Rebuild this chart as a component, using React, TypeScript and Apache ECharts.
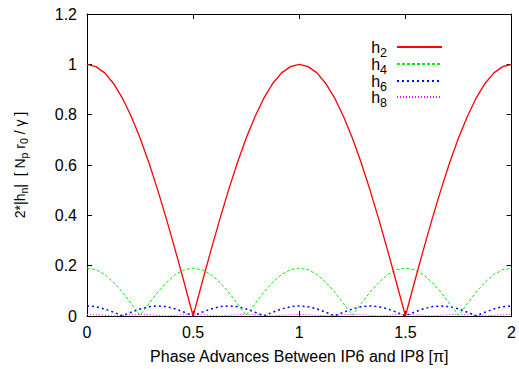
import React, { useEffect, useRef } from "react";
import * as echarts from "echarts";

const phase = [
  0, 0.0417, 0.0833, 0.125, 0.1667, 0.2083, 0.25, 0.2917, 0.3333, 0.375, 0.4167, 0.4583,
  0.5, 0.5417, 0.5833, 0.625, 0.6667, 0.7083, 0.75, 0.7917, 0.8333, 0.875, 0.9167, 0.9583,
  1, 1.0417, 1.0833, 1.125, 1.1667, 1.2083, 1.25, 1.2917, 1.3333, 1.375, 1.4167, 1.4583,
  1.5, 1.5417, 1.5833, 1.625, 1.6667, 1.7083, 1.75, 1.7917, 1.8333, 1.875, 1.9167, 1.9583,
  2,
];

const h2 = [
  1, 0.991, 0.966, 0.924, 0.866, 0.793, 0.707, 0.609, 0.5, 0.383, 0.259, 0.131,
  0, 0.131, 0.259, 0.383, 0.5, 0.609, 0.707, 0.793, 0.866, 0.924, 0.966, 0.991,
  1, 0.991, 0.966, 0.924, 0.866, 0.793, 0.707, 0.609, 0.5, 0.383, 0.259, 0.131,
  0, 0.131, 0.259, 0.383, 0.5, 0.609, 0.707, 0.793, 0.866, 0.924, 0.966, 0.991,
  1,
];

const h4 = [
  0.19, 0.184, 0.165, 0.134, 0.095, 0.049, 0.003, 0.049, 0.095, 0.134, 0.165, 0.184,
  0.19, 0.184, 0.165, 0.134, 0.095, 0.049, 0.003, 0.049, 0.095, 0.134, 0.165, 0.184,
  0.19, 0.184, 0.165, 0.134, 0.095, 0.049, 0.003, 0.049, 0.095, 0.134, 0.165, 0.184,
  0.19, 0.184, 0.165, 0.134, 0.095, 0.049, 0.003, 0.049, 0.095, 0.134, 0.165, 0.184,
  0.19,
];

const h6 = [
  0.04, 0.037, 0.028, 0.015, 0.001, 0.015, 0.028, 0.037,
  0.04, 0.037, 0.028, 0.015, 0.001, 0.015, 0.028, 0.037,
  0.04, 0.037, 0.028, 0.015, 0.001, 0.015, 0.028, 0.037,
  0.04, 0.037, 0.028, 0.015, 0.001, 0.015, 0.028, 0.037,
  0.04, 0.037, 0.028, 0.015, 0.001, 0.015, 0.028, 0.037,
  0.04, 0.037, 0.028, 0.015, 0.001, 0.015, 0.028, 0.037,
  0.04,
];

const h8 = [
  0.006, 0.005, 0.003, 0, 0.003, 0.005,
  0.006, 0.005, 0.003, 0, 0.003, 0.005,
  0.006, 0.005, 0.003, 0, 0.003, 0.005,
  0.006, 0.005, 0.003, 0, 0.003, 0.005,
  0.006, 0.005, 0.003, 0, 0.003, 0.005,
  0.006, 0.005, 0.003, 0, 0.003, 0.005,
  0.006, 0.005, 0.003, 0, 0.003, 0.005,
  0.006, 0.005, 0.003, 0, 0.003, 0.005,
  0.006,
];

const seriesNames = ["h2", "h4", "h6", "h8"];
const seriesColors = ["#ff0000", "#00ee00", "#0000ff", "#ff00ff"];

const FONT = "Liberation Sans, Arial, sans-serif";

export default function App() {
  const ref = useRef<HTMLDivElement>(null);
  useEffect(() => {
    if (!ref.current) return;
    const chart = echarts.init(ref.current, null, { renderer: "svg" });
    const pair = (ys: number[]) => phase.map((x, i) => [x, ys[i]]);
    const values = [h2, h4, h6, h8];
    const dashes: any[] = ["solid", [3, 2], [2, 3], [1, 2]];
    const widths = [1.3, 1, 1.5, 1];
    const keyWidths = [1.8, 1.8, 1.8, 1.8];

    const baseText = { fontFamily: FONT, fontSize: 16, color: "#000" };
    const yText = { fontFamily: FONT, fontSize: 14, color: "#000" };
    const ySub = { fontFamily: FONT, fontSize: 10.5, color: "#000", padding: [7, 0, 0, 0] };

    const xCommon = {
      type: "value" as const,
      min: 0,
      max: 2,
      interval: 0.5,
      splitLine: { show: false },
      axisLine: { show: true, onZero: false, lineStyle: { color: "#000", width: 1 } },
      axisTick: { show: true, inside: true, length: 5, lineStyle: { color: "#000" } },
    };
    const yCommon = {
      type: "value" as const,
      min: 0,
      max: 1.2,
      interval: 0.2,
      splitLine: { show: false },
      axisLine: { show: true, onZero: false, lineStyle: { color: "#000", width: 1 } },
      axisTick: { show: true, inside: true, length: 5, lineStyle: { color: "#000" } },
    };

    // key (legend) drawn in the gnuplot manner: label on the left, line sample on the right
    const keyRowsY = [47, 64, 81, 97];
    const keyElements: any[] = [];
    seriesNames.forEach((n, i) => {
      const y = keyRowsY[i];
      keyElements.push({
        type: "text",
        x: 387,
        y,
        z: 100,
        style: {
          text: `{b|h}{s|${n.slice(1)}}`,
          align: "right",
          verticalAlign: "middle",
          fill: "#000",
          font: `16px ${FONT}`,
          rich: {
            b: { fontFamily: FONT, fontSize: 16, lineHeight: 16, fill: "#000" },
            s: { fontFamily: FONT, fontSize: 12.5, lineHeight: 12.5, padding: [12, 0, 0, 0], fill: "#000" },
          },
        },
      });
      keyElements.push({
        type: "line",
        z: 100,
        shape: { x1: 397, y1: y, x2: 442, y2: y },
        style: {
          stroke: seriesColors[i],
          lineWidth: keyWidths[i],
          lineDash: dashes[i] === "solid" ? null : dashes[i],
        },
      });
    });

    chart.setOption({
      animation: false,
      backgroundColor: "#fff",
      grid: { left: 87, right: 2, top: 14, bottom: 49 },
      legend: { show: false, data: seriesNames },
      graphic: keyElements,
      xAxis: [
        {
          ...xCommon,
          position: "bottom",
          axisLabel: { ...baseText, margin: 8, formatter: (v: number) => String(v) },
          name: "Phase Advances Between IP6 and IP8 [π]",
          nameLocation: "middle",
          nameGap: 32,
          nameTextStyle: { ...baseText },
        },
        { ...xCommon, position: "top", axisLabel: { show: false } },
      ],
      yAxis: [
        {
          ...yCommon,
          position: "left",
          axisLabel: { ...baseText, margin: 10, formatter: (v: number) => String(Math.round(v * 10) / 10) },
          name: "{b|2*|h}{s|n}{b||  [ N}{s|p}{b| r}{s|0}{b| / γ ]}",
          nameLocation: "middle",
          nameRotate: 90,
          nameGap: 58,
          nameTextStyle: { ...yText, rich: { b: yText, s: ySub } },
        },
        { ...yCommon, position: "right", axisLabel: { show: false } },
      ],
      series: seriesNames.map((n, i) => ({
        name: n,
        type: "line",
        xAxisIndex: 0,
        yAxisIndex: 0,
        data: pair(values[i]),
        symbol: "none",
        showSymbol: false,
        smooth: false,
        z: 10 - i,
        itemStyle: { color: seriesColors[i] },
        lineStyle: { color: seriesColors[i], width: widths[i], type: dashes[i] },
      })),
    });
    return () => chart.dispose();
  }, []);
  return <div ref={ref} style={{ position: "fixed", left: 0, top: 0, width: 519, height: 369 }} />;
}
